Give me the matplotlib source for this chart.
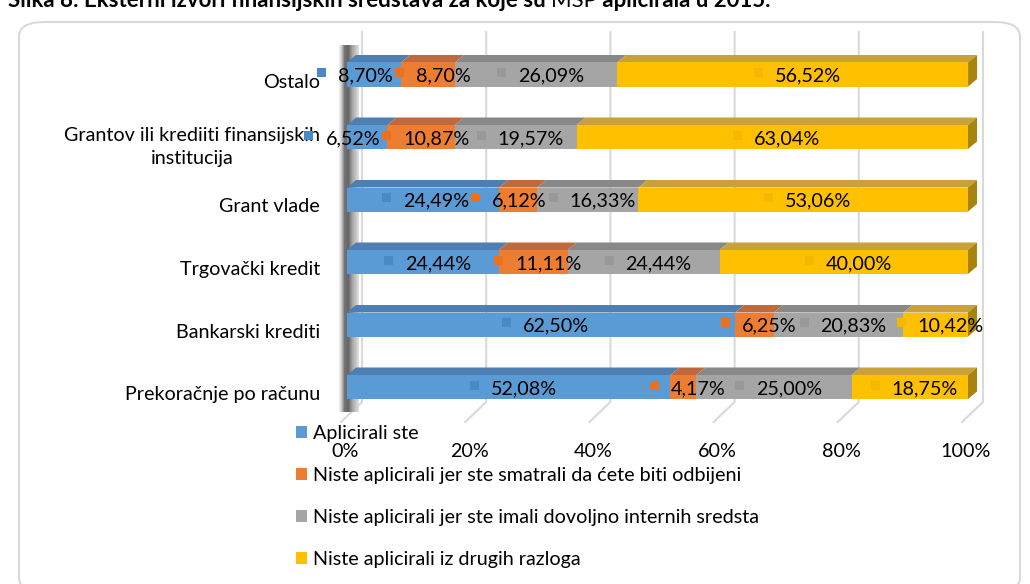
import matplotlib
matplotlib.use('Agg')
import matplotlib.pyplot as plt
import matplotlib.transforms as mtransforms
import numpy as np
from matplotlib.patches import Polygon, Rectangle, FancyBboxPatch, Patch
from matplotlib.lines import Line2D

# data
categories = ['Prekoračnje po računu', 'Bankarski krediti', 'Trgovački kredit',
              'Grant vlade', 'Grantov ili krediiti finansijskih\ninstitucija', 'Ostalo']
applied = [52.08, 62.50, 24.44, 24.49, 6.52, 8.70]
feared_rejection = [4.17, 6.25, 11.11, 6.12, 10.87, 8.70]
internal_funds = [25.00, 20.83, 24.44, 16.33, 19.57, 26.09]
other_reasons = [18.75, 10.42, 40.00, 53.06, 63.04, 56.52]
series_names = ['Aplicirali ste',
                'Niste aplicirali jer ste smatrali da ćete biti odbijeni',
                'Niste aplicirali jer ste imali dovoljno internih sredsta',
                'Niste aplicirali iz drugih razloga']
x_ticks = [0, 20, 40, 60, 80, 100]
x_tick_labels = ['0%', '20%', '40%', '60%', '80%', '100%']

front_cols = ['#5B9BD5', '#ED7D31', '#A5A5A5', '#FFC000']
top_cols = ['#4E7FB3', '#BE6A3E', '#888888', '#C9A03A']
key_cols = ['#4A89C8', '#E9711F', '#999999', '#F3B800']
side_col = '#A8840F'

plt.rcParams['font.family'] = ['Lato', 'DejaVu Sans']
FS = 14.2
W, H = 1030, 584

fig = plt.figure(figsize=(W / 100, H / 100), dpi=100)


def fx(px):
    return px / W


def fy(py):
    return 1 - py / H


# outer rounded frame
fig.add_artist(FancyBboxPatch((fx(19), fy(592)), fx(1001), (592 - 22) / H,
                              boxstyle='round,pad=0,rounding_size=0.025',
                              transform=fig.transFigure, fill=False,
                              edgecolor='#d9d9d9', lw=1.5, zorder=-3))

# title (cut off at the top of the picture, as in the source)
renderer = fig.canvas.get_renderer()
tx = fx(8)
for part, wgt in [('Slika 8: Eksterni izvori finansijskih sredstava za koje su ', 'bold'),
                  ('MSP', 'normal'), (' aplicirala u 2015.', 'bold')]:
    t = fig.text(tx, fy(7), part, fontsize=16, fontweight=wgt, va='baseline', ha='left')
    tx += t.get_window_extent(renderer).width / W

# left side wall
wall = fig.add_axes([fx(339), fy(412), fx(20), (412 - 45) / H], zorder=-1)
prof = np.interp(np.arange(20), [0, 2, 5, 9, 13, 19], [0.92, 0.80, 0.45, 0.40, 0.65, 0.87])
wall.imshow(np.tile(prof, (50, 1)), cmap='gray', vmin=0, vmax=1, aspect='auto')
wall.axis('off')

# main axes = front plane of the 3d chart
ax = fig.add_axes([fx(347), fy(418.25), fx(968) - fx(347), (418.25 - 43.25) / H])
ax.set_xlim(0, 100)
ax.set_ylim(-0.5, 5.5)
ax.patch.set_alpha(0)
for s in ax.spines.values():
    s.set_visible(False)
ax.tick_params(length=0)

sx = ax.bbox.width / 100
sy = ax.bbox.height / 6
dep_x, dep_y = 9 / sx, 7.5 / sy
bh = 0.384

# gridlines on the back wall, bent onto the floor
ident = mtransforms.IdentityTransform()
for v in x_ticks:
    xb = ax.transData.transform((v, 0))[0] + 15
    fig.add_artist(Line2D([xb, xb, xb - 21], [H - 32, H - 402, H - 422],
                          transform=ident, color='#d9d9d9', lw=1.5, zorder=-2))

series = [applied, feared_rejection, internal_funds, other_reasons]
y = np.arange(len(categories))
left = np.zeros(len(categories))
segs = []
for k, vals in enumerate(series):
    vals = np.array(vals)
    ax.barh(y, vals, left=left, height=bh, color=front_cols[k], zorder=3)
    for i in range(len(y)):
        l, w = left[i], vals[i]
        yt = y[i] + bh / 2
        ax.add_patch(Polygon([(l, yt), (l + w, yt), (l + w + dep_x, yt + dep_y), (l + dep_x, yt + dep_y)],
                             closed=True, facecolor=top_cols[k], edgecolor='none', zorder=2.5,
                             clip_on=False))
        if k == len(series) - 1:
            yb = y[i] - bh / 2
            xr = l + w
            ax.add_patch(Polygon([(xr, yb), (xr + dep_x, yb + dep_y), (xr + dep_x, yt + dep_y), (xr, yt)],
                                 closed=True, facecolor=side_col, edgecolor='none', zorder=2.5,
                                 clip_on=False))
        segs.append((i, k, l + w / 2, w))
    left = left + vals

# data labels with legend keys, nudged left when they collide
key_px, gap_px = 9, 12
inv = ax.transData.inverted()
for i in range(len(y)):
    row = []
    for (ii, k, c, w) in segs:
        if ii != i:
            continue
        txt = f'{w:.2f}'.replace('.', ',') + '%'
        t = ax.text(0, y[i], txt, fontsize=FS, va='center', ha='left', zorder=6)
        tw = t.get_window_extent(renderer).width
        gw = key_px + gap_px + tw
        cpx = ax.transData.transform((c, 0))[0] + 4.5
        row.append([cpx - gw / 2, gw, t, k])
    for j in range(len(row) - 2, -1, -1):
        right = row[j][0] + row[j][1]
        if right > row[j + 1][0] - 2:
            row[j][0] = row[j + 1][0] - 2 - row[j][1]
    for gl, gw, t, k in row:
        xt = inv.transform((gl + key_px + gap_px, 0))[0]
        t.set_x(xt)
        t.set_y(y[i] - 1.5 / sy)
        xk = inv.transform((gl, 0))[0]
        ax.add_patch(Rectangle((xk, y[i] + 2 / sy - key_px / 2 / sy), key_px / sx, key_px / sy,
                               facecolor=key_cols[k], edgecolor='none', zorder=6, clip_on=False))

# axis labels
ax.set_yticks(y)
ax.set_yticklabels(categories, fontsize=FS)
ax.tick_params(axis='y', pad=19.5)
for lab in ax.get_yticklabels():
    lab.set_multialignment('center')
    lab.set_linespacing(1.4)
    lab.set_transform(lab.get_transform() + mtransforms.ScaledTranslation(0, -6 / 100, fig.dpi_scale_trans))
ax.set_xticks(x_ticks)
ax.set_xticklabels(x_tick_labels, fontsize=FS)
ax.tick_params(axis='x', pad=18)
for lab in ax.get_xticklabels():
    lab.set_transform(lab.get_transform() + mtransforms.ScaledTranslation(-2 / 100, 0, fig.dpi_scale_trans))

# legend
handles = [Patch(facecolor=c) for c in front_cols]
fig.legend(handles, series_names, loc='upper left', bbox_to_anchor=(fx(296), fy(425)),
           frameon=False, fontsize=FS, handlelength=0.55, handleheight=0.55,
           handletextpad=0.3, labelspacing=1.27, borderpad=0, borderaxespad=0)

fig.savefig('out.png', dpi=100)
